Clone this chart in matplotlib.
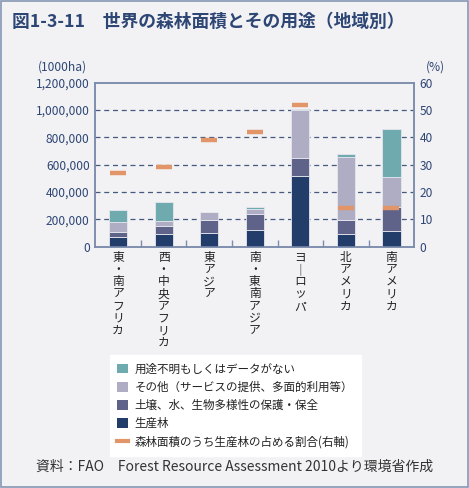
import matplotlib
matplotlib.use('Agg')
import matplotlib.pyplot as plt
from matplotlib.patches import Patch, Rectangle
from matplotlib.lines import Line2D
from matplotlib.ticker import FuncFormatter
import numpy as np

plt.rcParams['font.family'] = ['Noto Sans CJK JP', 'DejaVu Sans']

categories = ['東・南アフリカ', '西・中央アフリカ', '東アジア', '南・東南アジア',
              'ヨーロッパ', '北アメリカ', '南アメリカ']
# 1000ha
production = [73000, 95000, 98000, 122000, 520000, 93000, 117000]
protection = [37000, 56000, 97000, 117000, 129000, 100000, 176000]
other = [73000, 37000, 59000, 35000, 349000, 463000, 215000]
unknown = [83000, 137000, 0, 19000, 7000, 20000, 355000]
# %
ratio = [27, 29, 39, 42, 52, 14, 14]

labels = ['用途不明もしくはデータがない',
          'その他（サービスの提供、多面的利用等）',
          '土壌、水、生物多様性の保護・保全',
          '生産林',
          '森林面積のうち生産林の占める割合(右軸)']

c_unknown = '#6eaaae'
c_other = '#aeadc3'
c_prot = '#5f6389'
c_prod = '#233d6a'
c_ratio = '#e3956a'
bg = '#f2f2f5'
navy = '#2e4674'
axcol = '#7c8cac'

fig = plt.figure(figsize=(4.69, 4.88), dpi=100, facecolor=bg)
fig.patches.append(Rectangle((0.002, 0.002), 0.996, 0.996, transform=fig.transFigure,
                             fill=False, edgecolor='#8796b5', linewidth=1.2))

ax = fig.add_axes([0.2032, 0.4945, 0.680, 0.336], facecolor=bg)
x = np.arange(len(categories))
w = 0.4
ek = dict(edgecolor='#e6e6ee', linewidth=0.6, width=w, zorder=3)
b1 = np.array(production)
b2 = b1 + np.array(protection)
b3 = b2 + np.array(other)
ax.bar(x, production, color=c_prod, **ek)
ax.bar(x, protection, bottom=b1, color=c_prot, **ek)
ax.bar(x, other, bottom=b2, color=c_other, **ek)
ax.bar(x, unknown, bottom=b3, color=c_unknown, **ek)

ax.set_ylim(0, 1200000)
ax.set_yticks(np.arange(0, 1200001, 200000))
ax.yaxis.set_major_formatter(FuncFormatter(lambda v, p: f'{v:,.0f}'))
ax.set_xlim(-0.5, len(categories) - 0.5)
ax.set_xticks(x)
ax.set_xticklabels(['\n'.join(c.replace('ー', '｜')) for c in categories],
                   va='top', linespacing=0.92, fontsize=8.5, color='#222222')
ax.set_xticks(np.arange(0.5, len(categories) - 1, 1), minor=True)
ax.tick_params(axis='x', which='major', length=0, pad=3)
ax.tick_params(axis='x', which='minor', length=5, direction='in', color=axcol, width=1)
ax.tick_params(axis='y', length=0, labelsize=8.6, labelcolor=navy, pad=4)
for yv in range(200000, 1200000, 200000):
    ax.axhline(yv, color='#45597f', linestyle=(0, (4, 3)), linewidth=0.9, zorder=1)
for s in ax.spines.values():
    s.set_color(axcol)
    s.set_linewidth(1.1)

ax2 = ax.twinx()
ax2.set_ylim(0, 60)
ax2.set_yticks(range(0, 61, 10))
ax2.tick_params(axis='y', length=0, labelsize=8.6, labelcolor=navy, pad=4)
for s in ax2.spines.values():
    s.set_color(axcol)
    s.set_linewidth(1.1)
ax2.plot(x, ratio, linestyle='none', marker='_', markersize=12, markeredgewidth=3.2,
         color=c_ratio, zorder=5)

fig.text(0.081, 0.862, '(1000ha)', fontsize=8.6, color=navy, ha='left', va='center')
fig.text(0.929, 0.862, '(%)', fontsize=8.6, color=navy, ha='center', va='center')

fig.text(0.026, 0.956, '図1-3-11　世界の森林面積とその用途（地域別）', fontsize=12.8,
         fontweight='bold', color=navy, ha='left', va='center')

handles = [Patch(facecolor=c_unknown), Patch(facecolor=c_other),
           Patch(facecolor=c_prot), Patch(facecolor=c_prod),
           Line2D([0], [0], color=c_ratio, linewidth=3)]
leg = fig.legend(handles, labels, loc='upper left', bbox_to_anchor=(0.222, 0.284),
                 frameon=True, fancybox=False, facecolor='white', edgecolor='white',
                 fontsize=8.3, handlelength=0.9, handleheight=0.9, handletextpad=0.6,
                 labelspacing=0.45, borderpad=0.65, framealpha=1)
for t in leg.get_texts():
    t.set_color('#222222')

fig.text(0.5, 0.043, '資料：FAO　Forest Resource Assessment 2010より環境省作成',
         fontsize=10, color='#333333', ha='center', va='center')

fig.savefig('out.png', dpi=100, facecolor=bg)
